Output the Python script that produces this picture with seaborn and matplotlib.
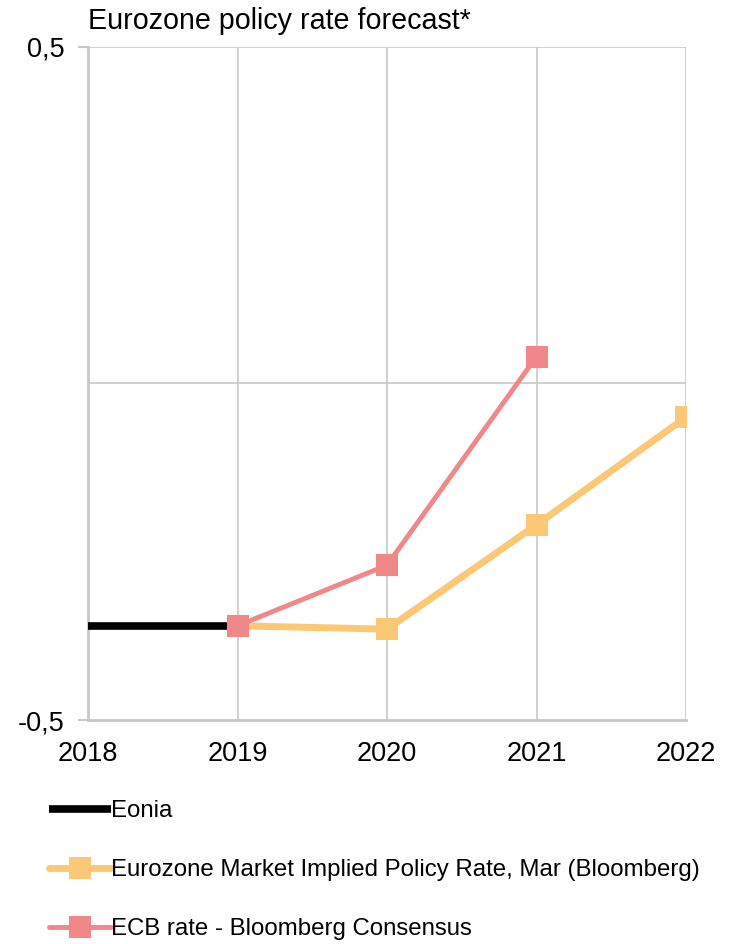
import matplotlib
matplotlib.use("Agg")
import matplotlib.pyplot as plt
import seaborn as sns
import pandas as pd

years_eonia = [2018, 2019]
eonia = [-0.36, -0.36]

years_market = [2019, 2020, 2021, 2022]
market = [-0.36, -0.365, -0.21, -0.05]

years_ecb = [2019, 2020, 2021]
ecb = [-0.36, -0.27, 0.04]

labels = ["Eonia",
          "Eurozone Market Implied Policy Rate, Mar (Bloomberg)",
          "ECB rate - Bloomberg Consensus"]
colors = ["#000000", "#FCC875", "#F0888A"]
title = "Eurozone policy rate forecast*"
x_ticks = [2018, 2019, 2020, 2021, 2022]
y_ticks = [-0.5, 0.5]
y_ticklabels = ["-0,5", "0,5"]

sns.set_theme(style="white")
plt.rcParams['font.family'] = ['Liberation Sans', 'DejaVu Sans']
plt.rcParams['text.color'] = 'black'
plt.rcParams['xtick.color'] = 'black'
plt.rcParams['ytick.color'] = 'black'

df = pd.concat([
    pd.DataFrame({"year": years_eonia, "value": eonia, "series": labels[0]}),
    pd.DataFrame({"year": years_market, "value": market, "series": labels[1]}),
    pd.DataFrame({"year": years_ecb, "value": ecb, "series": labels[2]}),
])

fig = plt.figure(figsize=(7.37, 9.44), dpi=100)
ax = fig.add_axes([88/737, 1-720/944, (686-88)/737, (720-47)/944])

grid_c = "#C8C8C8"
ax.axhline(0, color=grid_c, lw=1.2, zorder=0)
for x in x_ticks[1:]:
    ax.axvline(x, color=grid_c, lw=1.2, zorder=0)
ax.axhline(0.5, color=grid_c, lw=1.2, zorder=0)

sub = df[df.series == labels[0]]
sns.lineplot(data=sub, x="year", y="value", ax=ax, color=colors[0], lw=5.5,
             label=labels[0], solid_capstyle="butt", zorder=3)
sub = df[df.series == labels[1]]
sns.lineplot(data=sub, x="year", y="value", ax=ax, color=colors[1], lw=5,
             marker="s", markersize=16, markeredgewidth=0, label=labels[1], zorder=4)
sub = df[df.series == labels[2]]
sns.lineplot(data=sub, x="year", y="value", ax=ax, color=colors[2], lw=3.5,
             marker="s", markersize=15, markeredgewidth=1.5, markeredgecolor=colors[2],
             label=labels[2], zorder=5)

ax.set_xlim(2018, 2022)
ax.set_ylim(-0.5, 0.5)
ax.set_xticks(x_ticks)
ax.set_xticklabels([str(x) for x in x_ticks], fontsize=19.5, color='black')
ax.set_yticks(y_ticks)
ax.set_yticklabels(y_ticklabels, fontsize=19.5, color='black')
ax.tick_params(axis="x", length=0, pad=15)
ax.tick_params(axis="y", length=7, width=1.5, color=grid_c, pad=10, left=True)
ax.set_xlabel("")
ax.set_ylabel("")
for s in ["top", "right"]:
    ax.spines[s].set_visible(False)
for s in ["left", "bottom"]:
    ax.spines[s].set_color(grid_c)
    ax.spines[s].set_linewidth(2)

handles, labs = ax.get_legend_handles_labels()
ax.legend().remove()
leg = fig.legend(handles, labs, loc="upper left", bbox_to_anchor=(49/737, 1-800/944),
                 frameon=False, fontsize=17.3, handlelength=2.6, handletextpad=0.0,
                 labelspacing=1.55, borderaxespad=0, borderpad=0)
for t in leg.get_texts():
    t.set_color('black')

fig.text(88/737, 1-21/944, title, fontsize=20.6, va="center", ha="left", color='black')

fig.savefig("out.png", dpi=100)
